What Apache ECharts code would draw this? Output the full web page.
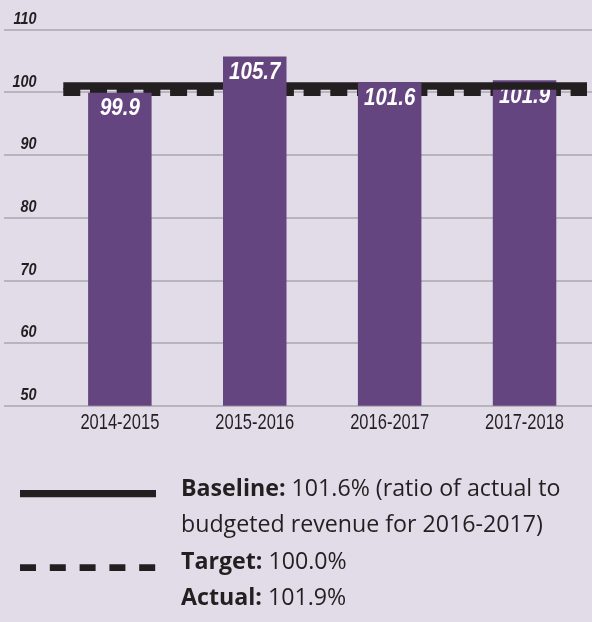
<!DOCTYPE html>
<html>
<head>
<meta charset="utf-8">
<script src="https://cdn.jsdelivr.net/npm/echarts@6/dist/echarts.min.js"></script>
<style>
html,body{margin:0;padding:0;background:#e2dce9;}
#chart{width:592px;height:622px;}
</style>
</head>
<body>
<div id="chart"></div>
<script>
// ---- data ----
var categories = ['2014-2015', '2015-2016', '2016-2017', '2017-2018'];
var actualValues = [99.9, 105.7, 101.6, 101.9];
var baselineValue = 101.6;
var targetValue = 100.0;
var yTicks = [50, 60, 70, 80, 90, 100, 110];

var CHART_FONT = '"Liberation Sans", Arial, sans-serif';
var SANS = '"Open Sans", "Noto Sans", sans-serif';
var INK = '#231f20';
var BAR = '#65457f';

// bars 1-3 drawn over the baseline line, the last one under it
var frontIdx = [0, 1, 2];
var backIdx = [3];
function pick(idx) { return actualValues.map(function (v, i) { return idx.indexOf(i) >= 0 ? v : '-'; }); }
function pickPairs(idx) { return idx.map(function (i) { return [i, actualValues[i]]; }); }

var chart = echarts.init(document.getElementById('chart'), null, {renderer: 'canvas'});

function barLabelItem(params, api) {
  var pt = api.coord([api.value(0), api.value(1)]);
  return {type: 'text', x: pt[0], y: pt[1] + 16, scaleX: 0.88,
    style: {text: api.value(1).toFixed(1), fill: '#ffffff', fontFamily: CHART_FONT,
      fontWeight: 'bold', fontStyle: 'italic', fontSize: 23.3, align: 'center', verticalAlign: 'middle'}};
}

var LINE_X0 = 63.3, LINE_X1 = 587;

var option = {
  backgroundColor: '#e2dce9',
  animation: false,
  grid: [
    {left: 4, right: 0, top: 29.5, bottom: 216.3},
    {left: 52.4, width: 549.2, top: 29.5, bottom: 216.3}
  ],
  xAxis: [
    {gridIndex: 0, type: 'value', min: 0, max: 1, show: false},
    {gridIndex: 1, type: 'category', data: categories,
      axisLine: {show: false}, axisTick: {show: false}, axisLabel: {show: false}}
  ],
  yAxis: [
    {gridIndex: 0, type: 'value', min: yTicks[0], max: yTicks[yTicks.length - 1], interval: 10,
      axisLine: {show: false}, axisTick: {show: false}, axisLabel: {show: false},
      splitLine: {show: true, lineStyle: {color: '#aaa7ad', width: 1.5}}},
    {gridIndex: 1, type: 'value', min: yTicks[0], max: yTicks[yTicks.length - 1], interval: 10, show: false}
  ],
  series: [
    {
      name: 'Y tick labels', type: 'custom', xAxisIndex: 0, yAxisIndex: 0, z: 1, silent: true,
      data: yTicks.map(function (v) { return [0, v]; }),
      renderItem: function (params, api) {
        var y = api.coord([0, api.value(1)])[1];
        return {type: 'text', x: params.coordSys.x + 32.5, y: y - 10.3, scaleX: 0.86,
          style: {text: String(api.value(1)), fill: INK, fontFamily: CHART_FONT, fontWeight: 'bold',
            fontStyle: 'italic', fontSize: 16.8, align: 'right', verticalAlign: 'middle'}};
      }
    },
    {
      name: 'X labels', type: 'custom', xAxisIndex: 1, yAxisIndex: 1, z: 1, silent: true,
      data: categories.map(function (c, i) { return [i, yTicks[0]]; }),
      renderItem: function (params, api) {
        var pt = api.coord([api.value(0), api.value(1)]);
        return {type: 'text', x: pt[0], y: pt[1] + 17.5, scaleX: 0.75,
          style: {text: categories[params.dataIndex], fill: INK, fontFamily: CHART_FONT,
            fontSize: 22, align: 'center', verticalAlign: 'middle'}};
      }
    },
    {
      name: 'Target', type: 'custom', xAxisIndex: 0, yAxisIndex: 0, z: 2,
      data: [[0, targetValue]],
      renderItem: function (params, api) {
        var y = api.coord([0, api.value(1)])[1];
        return {type: 'line', shape: {x1: LINE_X0, y1: y, x2: LINE_X1, y2: y},
          style: {stroke: INK, lineWidth: 7.7, lineDash: [17, 9.7]}};
      }
    },
    {
      name: 'Actual (latest)', type: 'bar', xAxisIndex: 1, yAxisIndex: 1, z: 3,
      data: pick(backIdx), barWidth: 63.5, barGap: '-100%', itemStyle: {color: BAR}
    },
    {
      name: 'Actual (latest) label', type: 'custom', xAxisIndex: 1, yAxisIndex: 1, z: 3.5, silent: true,
      data: pickPairs(backIdx), renderItem: barLabelItem
    },
    {
      name: 'Baseline', type: 'custom', xAxisIndex: 0, yAxisIndex: 0, z: 4,
      data: [[0, baselineValue]],
      renderItem: function (params, api) {
        var y = api.coord([0, api.value(1)])[1];
        return {type: 'rect', shape: {x: LINE_X0, y: y, width: LINE_X1 - LINE_X0, height: 7.7},
          style: {fill: INK}};
      }
    },
    {
      name: 'Actual', type: 'bar', xAxisIndex: 1, yAxisIndex: 1, z: 5,
      data: pick(frontIdx), barWidth: 63.5, barGap: '-100%', itemStyle: {color: BAR}
    },
    {
      name: 'Actual label', type: 'custom', xAxisIndex: 1, yAxisIndex: 1, z: 6, silent: true,
      data: pickPairs(frontIdx), renderItem: barLabelItem
    }
  ],
  graphic: [
    {type: 'rect', shape: {x: 20, y: 490, width: 136, height: 7.3}, style: {fill: INK}},
    {type: 'line', shape: {x1: 20, y1: 567.7, x2: 156, y2: 567.7},
      style: {stroke: INK, lineWidth: 6.7, lineDash: [16, 13.8]}},
    {type: 'text', x: 181, y: 470.7,
      style: {
        text: '{b|Baseline:} ' + baselineValue.toFixed(1) + '% (ratio of actual to\nbudgeted revenue for ' + categories[2] + ')\n' +
              '{b|Target:} ' + targetValue.toFixed(1) + '%\n' +
              '{b|Actual:} ' + actualValues[3].toFixed(1) + '%',
        fill: INK, fontFamily: SANS, fontSize: 23.2, lineHeight: 36.5,
        verticalAlign: 'top', align: 'left',
        rich: {b: {fontWeight: 'bold', fontFamily: SANS, fontSize: 23.2, lineHeight: 36.5, fill: INK}}
      }}
  ]
};
chart.setOption(option);
</script>
</body>
</html>
